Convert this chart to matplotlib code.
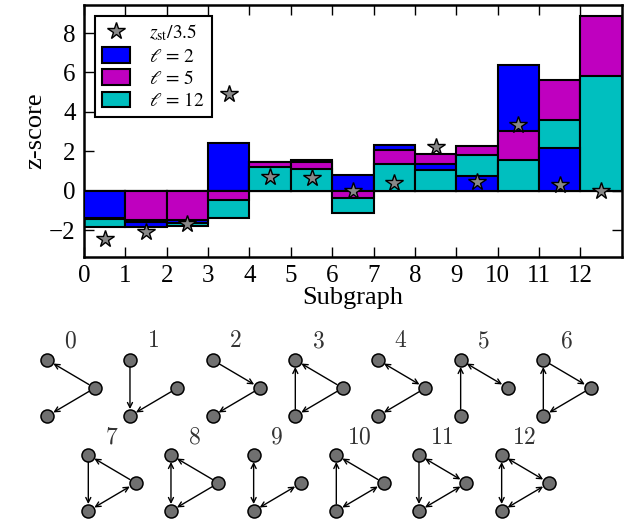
import numpy as np
import matplotlib
matplotlib.use("Agg")
import matplotlib.pyplot as plt

plt.rcParams["font.family"] = ["Liberation Serif", "DejaVu Serif"]
plt.rcParams["mathtext.fontset"] = "stix"

# z-scores of each three-node subgraph
subgraphs = list(range(13))
z_l2 = [-1.39, -1.82, -1.61, 2.42, 1.47, 1.58, 0.81, 2.33, 1.37, 0.76, 6.40, 2.17, 0.0]
z_l5 = [-1.42, -1.47, -1.47, -0.46, 1.45, 1.44, -0.36, 2.08, 1.88, 2.25, 3.01, 5.63, 8.88]
z_l12 = [-1.82, -1.58, -1.79, -1.36, 1.19, 1.10, -1.13, 1.38, 1.07, 1.83, 1.57, 3.57, 5.84]
z_st_scaled = [-2.44, -2.10, -1.66, 4.92, 0.69, 0.64, 0.01, 0.42, 2.20, 0.47, 3.33, 0.30, 0.01]

series = [
    (z_l2, (0.0, 0.0, 1.0), r"$\ell\, =\, 2$"),
    (z_l5, (0.75, 0.0, 0.75), r"$\ell\, =\, 5$"),
    (z_l12, (0.0, 0.75, 0.75), r"$\ell\, =\, 12$"),
]

fig = plt.figure(figsize=(6.28, 5.26), dpi=100)
ax = fig.add_axes([0.1338, 0.5114, 0.8562, 0.4791])

handles = [None] * len(series)
for i in subgraphs:
    # tallest bar at the back, shorter ones drawn over it
    order = sorted(range(len(series)), key=lambda k: -abs(series[k][0][i]))
    for rank, k in enumerate(order):
        vals, col, lab = series[k]
        b = ax.bar(i, vals[i], width=1.0, align="edge", color=col,
                   edgecolor="black", linewidth=1.5, zorder=2 + rank)
        if handles[k] is None:
            handles[k] = b

centers = np.array(subgraphs) + 0.5
star, = ax.plot(centers, z_st_scaled, linestyle="none", marker="*",
                markersize=13, markerfacecolor="#888888",
                markeredgecolor="black", markeredgewidth=1.0, zorder=30)

ax.set_xlim(0, 13)
ax.set_ylim(-3.35, 9.42)
ax.set_xticks(subgraphs)
ax.set_yticks([-2, 0, 2, 4, 6, 8])
ax.set_yticklabels(["\u22122", "0", "2", "4", "6", "8"])
ax.tick_params(direction="in", top=True, right=True, length=7, width=1.0,
               labelsize=18, pad=6)
for s in ax.spines.values():
    s.set_linewidth(1.8)
ax.set_xlabel("Subgraph", fontsize=19, labelpad=0)
ax.set_ylabel("z-score", fontsize=19, labelpad=2)

leg = ax.legend([star] + handles,
                [r"$z_{\rm st}/3.5$"] + [s[2] for s in series],
                loc="upper left", fontsize=14, numpoints=1, fancybox=False,
                framealpha=1.0, edgecolor="black", borderaxespad=0.55,
                handlelength=1.45, handleheight=0.85, handletextpad=1.0,
                labelspacing=0.2, borderpad=0.35)
leg.get_frame().set_linewidth(1.5)
leg.set_zorder(20)

# subgraph icons underneath the histogram
ov = fig.add_axes([0, 0, 1, 1], zorder=5)
ov.set_xlim(0, 628)
ov.set_ylim(526, 0)
ov.axis("off")
ov.patch.set_alpha(0)

node_offsets = {"T": (0.0, 0.0), "R": (47.5, 28.0), "B": (0.0, 56.0)}
motif_edges = [
    [("R", "T", False), ("R", "B", False)],
    [("T", "B", False), ("R", "B", False)],
    [("T", "R", False), ("R", "B", False)],
    [("B", "T", False), ("R", "T", False), ("R", "B", False)],
    [("T", "R", True), ("R", "B", False)],
    [("B", "T", False), ("T", "R", True)],
    [("T", "R", False), ("R", "B", False), ("B", "T", False)],
    [("T", "B", False), ("R", "T", False), ("B", "R", True)],
    [("T", "B", True), ("R", "T", False), ("R", "B", False)],
    [("T", "B", True), ("B", "R", True)],
    [("B", "T", False), ("R", "T", False), ("B", "R", True)],
    [("T", "B", False), ("T", "R", True), ("B", "R", True)],
    [("T", "B", True), ("T", "R", True), ("B", "R", True)],
]

step = 82.67
for m, edges in enumerate(motif_edges):
    if m < 7:
        x0, y0, ly = 47.3 + step * m, 360.0, 341.7
    else:
        x0, y0, ly = 88.3 + step * (m - 7), 455.0, 438.3
    pos = {k: (x0 + dx, y0 + dy) for k, (dx, dy) in node_offsets.items()}
    ov.text(x0 + 23.0, ly, f"${m}$", math_fontfamily="cm", fontsize=17,
            color="#333333", ha="center", va="center")
    for a, b, both in edges:
        ov.annotate("", xy=pos[b], xytext=pos[a],
                    arrowprops=dict(arrowstyle="<->" if both else "->",
                                    color="black", lw=1.0,
                                    shrinkA=5.0, shrinkB=5.0,
                                    mutation_scale=9))
    xs = [pos[k][0] for k in "TRB"]
    ys = [pos[k][1] for k in "TRB"]
    ov.scatter(xs, ys, s=88, c="#707070", edgecolors="black",
               linewidths=1.1, zorder=6)

fig.savefig("out.png", dpi=100)
